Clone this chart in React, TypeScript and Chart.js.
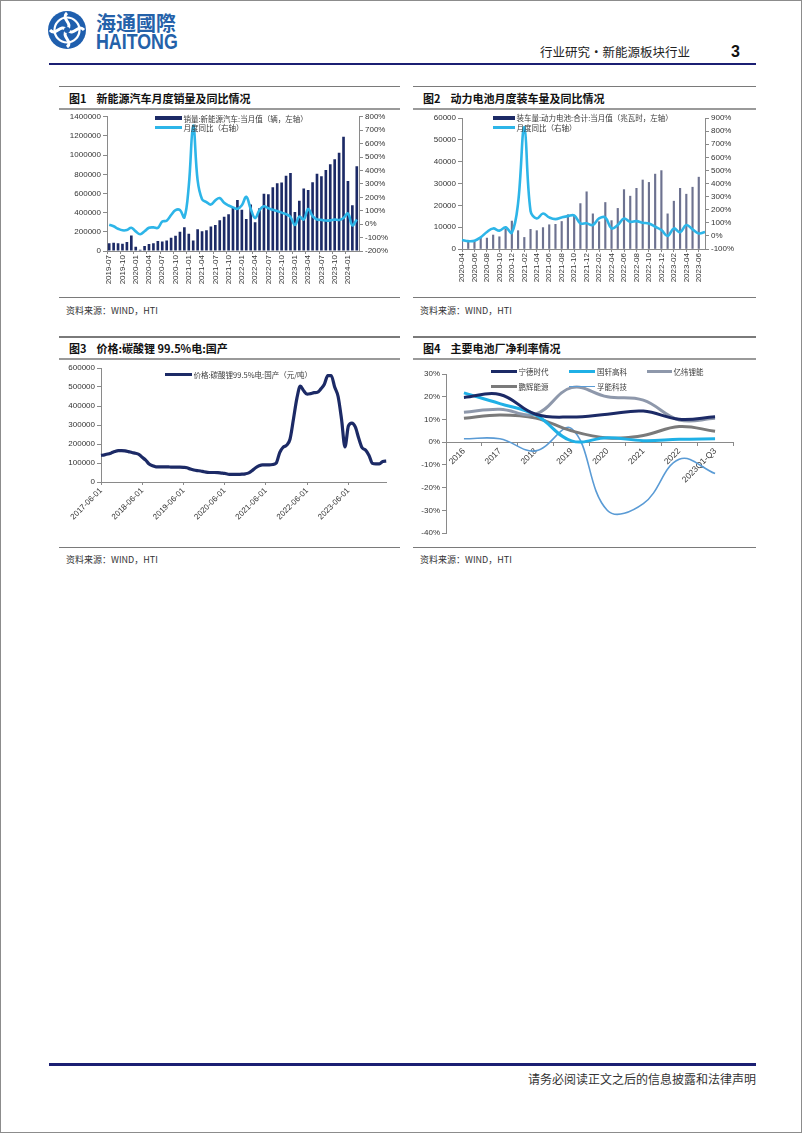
import React, { useEffect, useRef } from "react";
import { Chart, registerables } from "chart.js";

Chart.register(...registerables);

// ---------------- data ----------------
const nevMonths = (
  "2019-07 2019-08 2019-09 2019-10 2019-11 2019-12 " +
  "2020-01 2020-02 2020-03 2020-04 2020-05 2020-06 2020-07 2020-08 2020-09 2020-10 2020-11 2020-12 " +
  "2021-01 2021-02 2021-03 2021-04 2021-05 2021-06 2021-07 2021-08 2021-09 2021-10 2021-11 2021-12 " +
  "2022-01 2022-02 2022-03 2022-04 2022-05 2022-06 2022-07 2022-08 2022-09 2022-10 2022-11 2022-12 " +
  "2023-01 2023-02 2023-03 2023-04 2023-05 2023-06 2023-07 2023-08 2023-09 2023-10 2023-11 2023-12 " +
  "2024-01 2024-02 2024-03"
).split(" ");

const nevSales = [
  80000, 85000, 80000, 75000, 95000, 163000,
  44000, 13000, 53000, 72000, 82000, 104000, 98000, 109000, 138000, 160000, 200000, 248000,
  179000, 110000, 226000, 206000, 217000, 256000, 271000, 321000, 357000, 383000, 450000, 531000,
  431000, 334000, 484000, 299000, 447000, 596000, 593000, 666000, 708000, 714000, 786000, 814000,
  408000, 525000, 653000, 636000, 717000, 806000, 780000, 846000, 904000, 956000, 1026000, 1191000,
  729000, 477000, 883000,
];

const nevYoy = [
  -5, -16, -34, -46, -44, -27,
  -54, -75, -53, -27, -24, -28, 19, 26, 68, 105, 105, 50,
  286, 735, 326, 186, 165, 146, 177, 194, 159, 139, 125, 114,
  141, 204, 114, 45, 106, 133, 119, 107, 98, 86, 75, 53,
  -6, 57, 35, 113, 60, 35, 32, 27, 28, 34, 31, 46,
  79, -9, 35,
];

const battMonths = (
  "2020-04 2020-05 2020-06 2020-07 2020-08 2020-09 2020-10 2020-11 2020-12 " +
  "2021-01 2021-02 2021-03 2021-04 2021-05 2021-06 2021-07 2021-08 2021-09 2021-10 2021-11 2021-12 " +
  "2022-01 2022-02 2022-03 2022-04 2022-05 2022-06 2022-07 2022-08 2022-09 2022-10 2022-11 2022-12 " +
  "2023-01 2023-02 2023-03 2023-04 2023-05 2023-06 2023-07"
).split(" ");

const battVolume = [
  3400, 3600, 3900, 4900, 5000, 6400, 5600, 9100, 12800,
  8400, 5300, 9000, 8400, 9800, 11100, 11300, 12600, 15700, 15400, 20800, 26200,
  16100, 12500, 21300, 13000, 18600, 27200, 24200, 27800, 31600, 30500, 34300, 35900,
  16100, 21900, 27800, 25100, 28300, 32900, null,
];

const battYoy = [
  -31, -40, -37, -11, 30, 57, 40, 65, 24,
  250, 830, 190, 133, 171, 141, 128, 141, 151, 156, 96, 96,
  83, 133, 141, 57, 83, 133, 108, 113, 101, 95, 70, 45,
  0, 57, 27, 83, 50, 19, 29,
];

const lithiumDates = (
  "2017-06-01 2017-07-01 2017-08-01 2017-09-01 2017-10-01 2017-11-01 2017-12-01 " +
  "2018-01-01 2018-02-01 2018-03-01 2018-04-01 2018-05-01 2018-06-01 2018-07-01 2018-08-01 2018-09-01 2018-10-01 2018-11-01 2018-12-01 " +
  "2019-01-01 2019-02-01 2019-03-01 2019-04-01 2019-05-01 2019-06-01 2019-07-01 2019-08-01 2019-09-01 2019-10-01 2019-11-01 2019-12-01 " +
  "2020-01-01 2020-02-01 2020-03-01 2020-04-01 2020-05-01 2020-06-01 2020-07-01 2020-08-01 2020-09-01 2020-10-01 2020-11-01 2020-12-01 " +
  "2021-01-01 2021-02-01 2021-03-01 2021-04-01 2021-05-01 2021-06-01 2021-07-01 2021-08-01 2021-09-01 2021-10-01 2021-11-01 2021-12-01 " +
  "2022-01-01 2022-02-01 2022-03-01 2022-04-01 2022-05-01 2022-06-01 2022-07-01 2022-08-01 2022-09-01 2022-10-01 2022-11-01 2022-12-01 " +
  "2023-01-01 2023-02-01 2023-03-01 2023-04-01 2023-05-01 2023-06-01 2023-07-01 2023-08-01 2023-09-01 2023-10-01 2023-11-01 2023-12-01 " +
  "2024-01-01 2024-02-01 2024-03-01 2024-04-01 2024-05-01"
).split(" ");

const lithiumPrice = [
  140000, 143000, 147000, 153000, 160000, 165000, 165000,
  164000, 160000, 155000, 151000, 146000, 130000, 115000, 95000, 85000, 80000, 80000, 80000,
  80000, 79000, 78000, 78000, 78000, 77000, 75000, 68000, 63000, 60000, 58000, 54000,
  51000, 50000, 50000, 49000, 47000, 45000, 41000, 40000, 40000, 40000, 41000, 43000,
  48000, 60000, 75000, 85000, 90000, 90000, 90000, 92000, 100000, 155000, 183000, 193000,
  225000, 330000, 440000, 505000, 480000, 462000, 465000, 470000, 472000, 490000, 515000, 560000,
  560000, 500000, 450000, 330000, 185000, 295000, 310000, 290000, 230000, 180000, 168000, 140000,
  98000, 95000, 95000, 108000, 110000,
];

const profitYears = ["2016", "2017", "2018", "2019", "2020", "2021", "2022", "2023Q1-Q3"];
const marginCATL = [19.7, 21.0, 12.3, 11.1, 12.3, 13.7, 10.1, 11.2];
const marginGotion = [21.7, 17.0, 12.0, 0.6, 2.0, 0.7, 1.3, 1.5];
const marginEVE = [13.2, 14.5, 12.4, 24.0, 20.0, 18.5, 9.8, 10.5];
const marginPenghui = [10.5, 12.0, 10.6, 5.0, 1.9, 3.0, 6.9, 4.8];
const marginFarasis = [1.5, 1.5, -3.8, 6.0, -30.0, -27.0, -7.5, -13.8];

const nevTicksLeft = [0, 1400000, 200000];
const nevTicksRight = [-200, 800, 100];
const battTicksLeft = [0, 60000, 10000];
const battTicksRight = [-100, 900, 100];
const lithiumTicks = [0, 600000, 100000];
const marginTicks = [-40, 30, 10];

// ---------------- styles ----------------
const NUM_FONT = "'Liberation Sans', Arial, sans-serif";
const CJK_FONT = "'Noto Sans CJK SC', 'Noto Sans', sans-serif";
const NAVY = "#1c2a66";
const CYAN = "#2db5e8";
const AXIS = "#8a8a8a";
const TICK_TEXT = "#333333";

Chart.defaults.font.family = NUM_FONT;

const tickFont = { family: NUM_FONT, size: 8 };

function yAxis(pos: string, t: number[], width: number, fmt: (v: number) => string) {
  return {
    type: "linear",
    position: pos,
    min: t[0],
    max: t[1],
    ticks: {
      stepSize: t[2],
      color: TICK_TEXT,
      font: tickFont,
      padding: 2,
      callback: (v: any) => fmt(Number(v)),
    },
    grid: { drawOnChartArea: false, drawTicks: true, tickLength: 4, color: AXIS },
    border: { color: AXIS, width: 1 },
    afterFit: (s: any) => {
      s.width = width;
    },
  };
}

function xCategory(opts: {
  show: (i: number) => boolean;
  labels: string[];
  rotation: number;
  offset: boolean;
  height?: number;
  position?: any;
  fontSize?: number;
}) {
  const cfg: any = {
    type: "category",
    offset: opts.offset,
    position: opts.position || "bottom",
    ticks: {
      autoSkip: false,
      minRotation: opts.rotation,
      maxRotation: opts.rotation,
      color: TICK_TEXT,
      font: { family: NUM_FONT, size: opts.fontSize || 8 },
      padding: 1,
      callback: (_v: any, i: number) => (opts.show(i) ? opts.labels[i] : ""),
    },
    grid: {
      drawOnChartArea: false,
      drawTicks: true,
      tickLength: 3,
      offset: opts.offset,
      color: (ctx: any) => (opts.show(ctx.index) ? AXIS : "rgba(0,0,0,0)"),
    },
    border: { color: AXIS, width: 1 },
  };
  if (opts.height !== undefined) {
    const h = opts.height;
    cfg.afterFit = (s: any) => {
      s.height = h;
    };
  }
  if (opts.position) cfg.axis = "x";
  return cfg;
}

function baseOptions(padding: any, scales: any) {
  return {
    responsive: false,
    maintainAspectRatio: false,
    animation: false,
    devicePixelRatio: 1,
    layout: { padding },
    plugins: { legend: { display: false }, tooltip: { enabled: false } },
    scales,
  };
}

function makeNevConfig(): any {
  return {
    type: "bar",
    data: {
      labels: nevMonths,
      datasets: [
        {
          type: "line",
          label: "月度同比（右轴）",
          data: nevYoy,
          yAxisID: "y1",
          borderColor: CYAN,
          borderWidth: 2.6,
          pointRadius: 0,
          tension: 0.4,
          fill: false,
        },
        {
          type: "bar",
          label: "销量:新能源汽车:当月值（辆，左轴）",
          data: nevSales,
          yAxisID: "y",
          backgroundColor: NAVY,
          barPercentage: 0.6,
          categoryPercentage: 1,
        },
      ],
    },
    options: baseOptions(
      { top: 6, right: 0, bottom: 0, left: 0 },
      {
        x: xCategory({ show: (i) => i % 3 === 0, labels: nevMonths, rotation: 90, offset: true, height: 39 }),
        y: yAxis("left", nevTicksLeft, 47, (v) => String(v)),
        y1: yAxis("right", nevTicksRight, 41, (v) => v + "%"),
      }
    ),
  };
}

function makeBattConfig(): any {
  return {
    type: "bar",
    data: {
      labels: battMonths,
      datasets: [
        {
          type: "line",
          label: "月度同比（右轴）",
          data: battYoy,
          yAxisID: "y1",
          borderColor: CYAN,
          borderWidth: 2.6,
          pointRadius: 0,
          tension: 0.4,
          fill: false,
        },
        {
          type: "bar",
          label: "装车量:动力电池:合计:当月值（兆瓦时，左轴）",
          data: battVolume,
          yAxisID: "y",
          backgroundColor: "#6d7290",
          barThickness: 1.5,
        },
      ],
    },
    options: baseOptions(
      { top: 8, right: 0, bottom: 0, left: 0 },
      {
        x: xCategory({ show: (i) => i % 2 === 0, labels: battMonths, rotation: 90, offset: false, height: 41 }),
        y: yAxis("left", battTicksLeft, 44, (v) => String(v)),
        y1: yAxis("right", battTicksRight, 33, (v) => v + "%"),
      }
    ),
  };
}

function makeLithiumConfig(): any {
  return {
    type: "line",
    data: {
      labels: lithiumDates,
      datasets: [
        {
          label: "价格:碳酸锂99.5%电:国产（元/吨）",
          data: lithiumPrice,
          borderColor: NAVY,
          borderWidth: 3.2,
          pointRadius: 0,
          tension: 0.3,
          cubicInterpolationMode: "monotone",
          fill: false,
        },
      ],
    },
    options: baseOptions(
      { top: 8, right: 0, bottom: 0, left: 0 },
      {
        x: xCategory({
          show: (i) => lithiumDates[i] !== undefined && lithiumDates[i].endsWith("-06-01"),
          labels: lithiumDates,
          rotation: 45,
          offset: false,
          height: 56,
        }),
        y: yAxis("left", lithiumTicks, 41, (v) => String(v)),
      }
    ),
  };
}

const marginSeries = [
  { label: "宁德时代", data: marginCATL, color: NAVY, width: 3 },
  { label: "国轩高科", data: marginGotion, color: "#1fb0e6", width: 3 },
  { label: "亿纬锂能", data: marginEVE, color: "#8e98ab", width: 3 },
  { label: "鹏辉能源", data: marginPenghui, color: "#7a7a7a", width: 3 },
  { label: "孚能科技", data: marginFarasis, color: "#5a9bd5", width: 1.6 },
];

function makeMarginConfig(): any {
  return {
    type: "line",
    data: {
      labels: profitYears,
      datasets: marginSeries.map((s) => ({
        label: s.label,
        data: s.data,
        borderColor: s.color,
        borderWidth: s.width,
        pointRadius: 0,
        tension: 0.4,
        fill: false,
      })),
    },
    options: baseOptions(
      { top: 12, right: 4, bottom: 4, left: 0 },
      {
        x: xCategory({
          show: () => true,
          labels: profitYears,
          rotation: 45,
          offset: true,
          position: { y: 0 },
          fontSize: 8.5,
        }),
        y: yAxis("left", marginTicks, 28, (v) => v + "%"),
      }
    ),
  };
}

// ---------------- components ----------------
function ChartCanvas(props: { left: number; top: number; width: number; height: number; make: () => any }) {
  const ref = useRef<HTMLCanvasElement | null>(null);
  useEffect(() => {
    if (!ref.current) return;
    const chart = new Chart(ref.current, props.make());
    return () => chart.destroy();
  }, []);
  return (
    <canvas
      ref={ref}
      width={props.width}
      height={props.height}
      style={{ position: "absolute", left: props.left, top: props.top, width: props.width, height: props.height }}
    />
  );
}

function Txt(props: {
  x: number;
  cy: number;
  size: number;
  children: any;
  bold?: boolean;
  color?: string;
  font?: string;
  style?: any;
}) {
  const h = Math.ceil(props.size * 1.4);
  return (
    <div
      style={{
        position: "absolute",
        left: props.x,
        top: props.cy - h / 2,
        height: h,
        lineHeight: h + "px",
        fontSize: props.size,
        fontWeight: props.bold ? 700 : 400,
        color: props.color || "#222",
        fontFamily: props.font || CJK_FONT,
        whiteSpace: "nowrap",
        ...(props.style || {}),
      }}
    >
      {props.children}
    </div>
  );
}

function HLine(props: { x: number; y: number; w: number; h: number; color: string }) {
  return (
    <div
      style={{
        position: "absolute",
        left: props.x,
        top: props.y - props.h / 2,
        width: props.w,
        height: props.h,
        background: props.color,
      }}
    />
  );
}

function LegendItem(props: {
  x: number;
  y: number;
  w: number;
  h: number;
  color: string;
  tx: number;
  text: string;
  size?: number;
}) {
  return (
    <>
      <HLine x={props.x} y={props.y} w={props.w} h={props.h} color={props.color} />
      <Txt x={props.tx} cy={props.y} size={props.size || 7.5} color="#3a3a3a">
        {props.text}
      </Txt>
    </>
  );
}

function Panel(props: {
  x: number;
  w: number;
  topY: number;
  topH: number;
  titleY: number;
  underY: number;
  bottomY: number;
  sourceY: number;
  fig: string;
  title: string;
}) {
  return (
    <>
      <HLine x={props.x} y={props.topY} w={props.w} h={props.topH} color="#7a7a7a" />
      <Txt x={props.x + 10} cy={props.titleY} size={11} bold color="#111">
        <span>{props.fig}</span>
        <span style={{ marginLeft: 10 }}>{props.title}</span>
      </Txt>
      <HLine x={props.x} y={props.underY} w={props.w} h={2} color="#9a9a9a" />
      <HLine x={props.x} y={props.bottomY} w={props.w} h={1} color="#7a7a7a" />
      <Txt x={props.x + 7} cy={props.sourceY} size={9} color="#333">
        资料来源：WIND，HTI
      </Txt>
    </>
  );
}

function Logo() {
  return (
    <svg width={40} height={40} viewBox="0 0 40 40" style={{ position: "absolute", left: 47, top: 10 }}>
      <circle cx={20} cy={20} r={19} fill="#1f5fae" />
      <circle cx={20} cy={20} r={12.5} fill="none" stroke="#fff" strokeWidth={2.2} />
      <path d="M20 3 C 13 9, 27 13, 20 20 C 13 27, 27 31, 20 37" stroke="#fff" strokeWidth={3} fill="none" />
      <path d="M3 20 C 9 27, 13 13, 20 20 C 27 27, 31 13, 37 20" stroke="#fff" strokeWidth={3} fill="none" />
      <circle cx={20} cy={20} r={3} fill="#1f5fae" />
    </svg>
  );
}

export default function App() {
  const L = 59;
  const LW = 341;
  const R = 413;
  const RW = 343;
  return (
    <div
      style={{
        position: "absolute",
        left: 0,
        top: 0,
        width: 802,
        height: 1133,
        background: "#fff",
        overflow: "hidden",
        fontFamily: CJK_FONT,
      }}
    >
      {/* header */}
      <Logo />
      <Txt x={96} cy={22.5} size={20} bold color="#2461a9">
        海通國際
      </Txt>
      <Txt
        x={96}
        cy={41.3}
        size={22}
        bold
        color="#2461a9"
        font={NUM_FONT}
        style={{ transform: "scaleX(0.81)", transformOrigin: "left center" }}
      >
        HAITONG
      </Txt>
      <Txt x={540} cy={52} size={12.5} color="#222">
        行业研究•新能源板块行业
      </Txt>
      <Txt x={731} cy={51.5} size={16} bold color="#111" font={NUM_FONT}>
        3
      </Txt>
      <HLine x={49} y={63.8} w={707} h={2.5} color="#1b1f73" />

      {/* row 1 panels */}
      <Panel x={L} w={LW} topY={86.5} topH={1} titleY={98.3} underY={108.8} bottomY={297.8} sourceY={310} fig="图1" title="新能源汽车月度销量及同比情况" />
      <Panel x={R} w={RW} topY={86.5} topH={1} titleY={98.3} underY={108.8} bottomY={297.8} sourceY={310} fig="图2" title="动力电池月度装车量及同比情况" />

      {/* row 2 panels */}
      <Panel x={L} w={LW} topY={336.8} topH={2} titleY={348} underY={358.5} bottomY={547.8} sourceY={559.5} fig="图3" title="价格:碳酸锂 99.5%电:国产" />
      <Panel x={R} w={RW} topY={336.8} topH={2} titleY={348} underY={358.5} bottomY={547.8} sourceY={559.5} fig="图4" title="主要电池厂净利率情况" />

      {/* charts */}
      <ChartCanvas left={60} top={110} width={340} height={180} make={makeNevConfig} />
      <ChartCanvas left={418} top={110} width={320} height={180} make={makeBattConfig} />
      <ChartCanvas left={60} top={360} width={334} height={178} make={makeLithiumConfig} />
      <ChartCanvas left={418} top={362} width={319} height={178} make={makeMarginConfig} />

      {/* legends chart 1 */}
      <LegendItem x={155} y={118.3} w={27} h={4} color={NAVY} tx={183.5} text="销量:新能源汽车:当月值（辆，左轴）" />
      <LegendItem x={155} y={127.7} w={27} h={2.8} color={CYAN} tx={183.5} text="月度同比（右轴）" />

      {/* legends chart 2 */}
      <LegendItem x={493} y={117.7} w={22} h={4} color={NAVY} tx={516.5} text="装车量:动力电池:合计:当月值（兆瓦时，左轴）" />
      <LegendItem x={493} y={127.7} w={22} h={2.8} color={CYAN} tx={516.5} text="月度同比（右轴）" />

      {/* legend chart 3 */}
      <LegendItem x={165} y={374.3} w={27} h={3} color={NAVY} tx={193.5} text="价格:碳酸锂99.5%电:国产（元/吨）" />

      {/* legend chart 4 */}
      <LegendItem x={491} y={371} w={26} h={3} color={marginSeries[0].color} tx={518.5} text="宁德时代" />
      <LegendItem x={569} y={371} w={26} h={3} color={marginSeries[1].color} tx={597} text="国轩高科" />
      <LegendItem x={647} y={371} w={25} h={3} color={marginSeries[2].color} tx={673.5} text="亿纬锂能" />
      <LegendItem x={491} y={386.7} w={26} h={3} color={marginSeries[3].color} tx={518.5} text="鹏辉能源" />
      <LegendItem x={569} y={386.7} w={26} h={1.6} color={marginSeries[4].color} tx={597} text="孚能科技" />

      {/* footer */}
      <HLine x={49} y={1064.3} w={707} h={2.5} color="#1b1f73" />
      <div
        style={{
          position: "absolute",
          right: 46,
          top: 1070,
          height: 17,
          lineHeight: "17px",
          fontSize: 12,
          color: "#333",
          fontFamily: CJK_FONT,
          whiteSpace: "nowrap",
        }}
      >
        请务必阅读正文之后的信息披露和法律声明
      </div>

      {/* page border */}
      <div
        style={{
          position: "absolute",
          left: 0,
          top: 0,
          width: 802,
          height: 1133,
          boxSizing: "border-box",
          border: "1px solid #8c8c8c",
          pointerEvents: "none",
        }}
      />
    </div>
  );
}
